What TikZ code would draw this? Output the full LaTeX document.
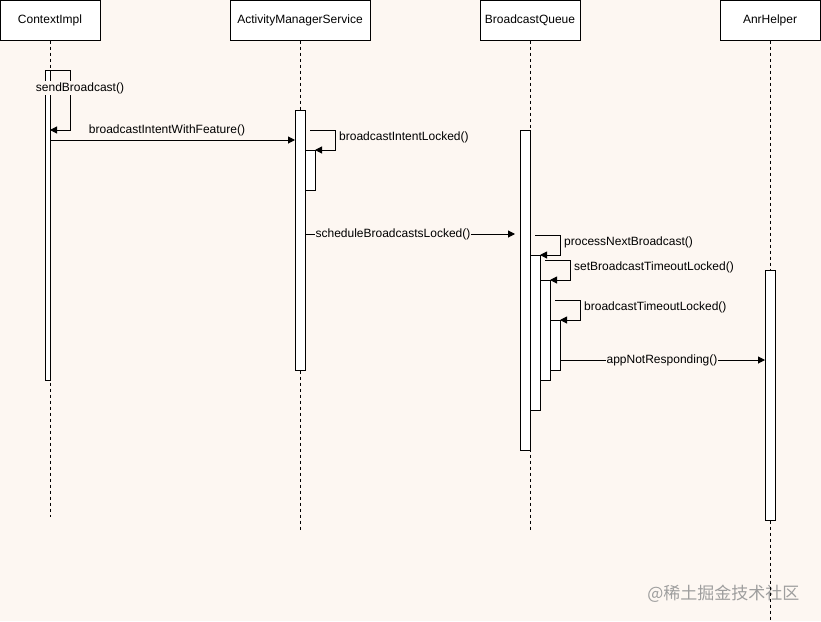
\documentclass[tikz,border=0pt]{standalone}
\usepackage{fontspec}
\setmainfont{Liberation Sans}
\newfontfamily\cjkfont{Noto Sans CJK SC}
\usetikzlibrary{arrows.meta}

\definecolor{paper}{RGB}{253,247,242}
\definecolor{mark}{RGB}{158,158,158}

\tikzset{
  head/.style={draw, fill=white, line width=1pt, minimum width=100pt, minimum height=40pt, inner sep=0pt, font=\fontsize{12}{14}\selectfont},
  bar/.style={draw, fill=white, line width=1pt, minimum width=10pt, inner sep=0pt, outer sep=0pt, anchor=north west},
  life/.style={dash pattern=on 3pt off 3pt, line width=0.8pt},
  msg/.style={-{Triangle[length=7pt,width=7pt]}, line width=1pt},
  lbl/.style={font=\fontsize{12}{14}\selectfont, inner sep=1pt},
}

\begin{document}
\begin{tikzpicture}[x=1pt, y=-1pt]

	\fill[paper] (0,0) rectangle (821,621);
	\useasboundingbox (0,0) rectangle (821,621);

	\node[font=\cjkfont\fontsize{17}{20}\selectfont, text=mark, anchor=east] (wm) at (803,594) {@稀土掘金技术社区};

	% lifelines
	\node[head] (ci) at (50,20) {ContextImpl};
	\node[head, minimum width=140pt] (ams) at (300,20) {ActivityManagerService};
	\node[head] (bq) at (530,20) {BroadcastQueue};
	\node[head] (anr) at (770,20) {AnrHelper};

	\coordinate (ciend) at (50,517);
	\coordinate (amsend) at (300,530);
	\coordinate (bqend) at (530,530);
	\coordinate (anrend) at (770,621);
	\draw[life] (ci.south) -- (ciend);
	\draw[life] (ams.south) -- (amsend);
	\draw[life] (bq.south) -- (bqend);
	\draw[life] (anr.south) -- (anrend);

	% activations
	\node[bar, minimum width=5pt, minimum height=310pt] (ci1) at (45,70) {};
	\node[bar, minimum height=260pt] (ams1) at (295,110) {};
	\node[bar, minimum height=40pt] (ams2) at (305,150) {};
	\node[bar, minimum height=320pt] (bq1) at (520,130) {};
	\node[bar, minimum height=155pt] (bq2) at (530,255) {};
	\node[bar, minimum height=100pt] (bq3) at (540,280) {};
	\node[bar, minimum height=50pt] (bq4) at (550,320) {};
	\node[bar, minimum height=250pt] (anr1) at (765,270) {};

	% messages
	\draw[msg] (ci1.north) -| (70,130) -- (ci1.east |- 0,130);
	\node[lbl, fill=paper] (sb) at (80,88) {sendBroadcast()};

	\draw[msg] (ci1.east |- 0,140) -- (ams1.west |- 0,140);
	\node[lbl] (biwf) at (167,130) {broadcastIntentWithFeature()};

	\draw[msg] (310,130) -| (335,150) -- (ams2.north east);
	\node[lbl, anchor=west] (bil) at (338,137) {broadcastIntentLocked()};

	\draw[msg, shorten >=5pt] (ams1.east |- 0,234) -- (bq1.west |- 0,234);
	\node[lbl, fill=paper] (sbl) at (393,234) {scheduleBroadcastsLocked()};

	\draw[msg] (535,235) -| (560,255) -- (bq2.north east);
	\node[lbl, anchor=west] (pnb) at (563,242) {processNextBroadcast()};

	\draw[msg] (545,260) -| (570,280) -- (bq3.north east);
	\node[lbl, anchor=west] (sbtl) at (573,267) {setBroadcastTimeoutLocked()};

	\draw[msg] (555,300) -| (580,320) -- (bq4.north east);
	\node[lbl, anchor=west] (btl) at (583,307) {broadcastTimeoutLocked()};

	\draw[msg] (bq4.east |- 0,360) -- (anr1.west |- 0,360);
	\node[lbl, fill=paper] (anrcall) at (662,360) {appNotResponding()};

\end{tikzpicture}
\end{document}
